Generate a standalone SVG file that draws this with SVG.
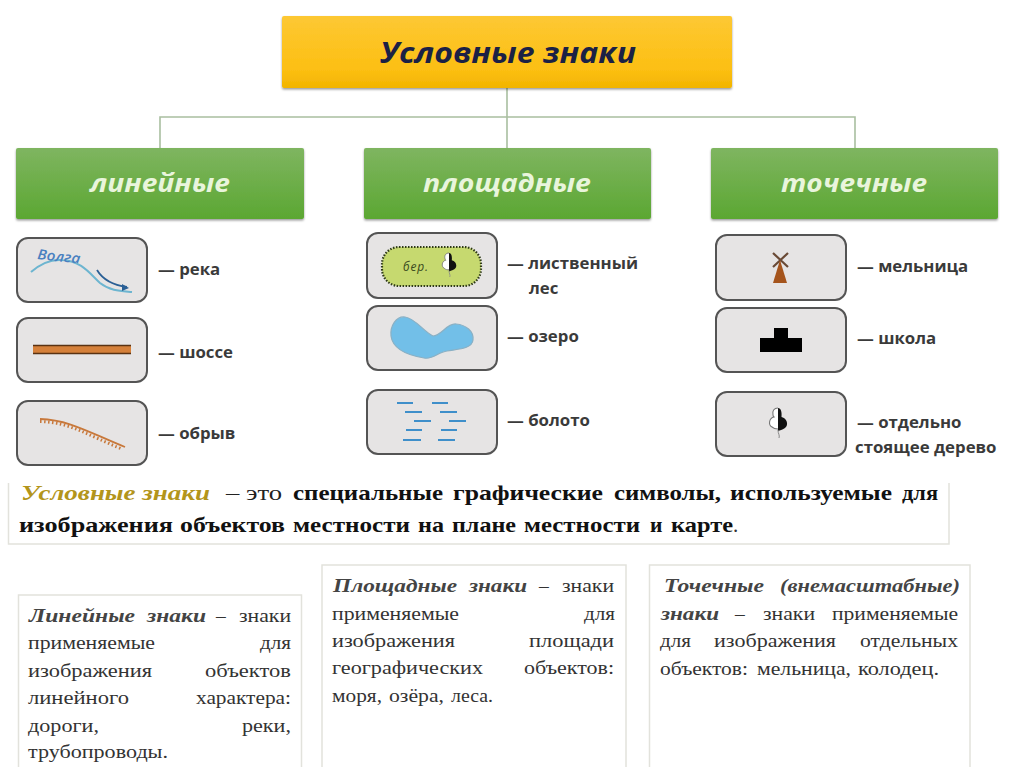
<svg xmlns="http://www.w3.org/2000/svg" width="1024" height="767" viewBox="0 0 1024 767">
<style>
.hd{font-family:"Open Sans","Lato",sans-serif;font-weight:700;font-style:italic}
.g{font-size:25px;fill:#e9f5dc}
.sym{fill:#e6e4e4;stroke:#545454;stroke-width:2}
.lab{font-family:"Open Sans","Liberation Sans",sans-serif;font-weight:700;font-size:16.800px;fill:#3a3a3a}
.ser{font-family:"Liberation Serif",serif;font-size:19.500px;fill:#333}
.b{font-weight:700;fill:#111;font-size:21.500px}
.i{font-style:italic;font-weight:700;fill:#444}
.frame{fill:none;stroke:#e2e2dc;stroke-width:1.5}
.con{fill:none;stroke:#a9bfa0;stroke-width:1.6}
.sw{stroke:#3f8fca;stroke-width:2}
</style>
<defs>
<linearGradient id="yel" x1="0" y1="0" x2="0" y2="1"><stop offset="0" stop-color="#fdc834"/><stop offset="0.75" stop-color="#fcbf12"/><stop offset="1" stop-color="#f2b400"/></linearGradient>
<linearGradient id="grn" x1="0" y1="0" x2="0" y2="1"><stop offset="0" stop-color="#7fb560"/><stop offset="1" stop-color="#5ba732"/></linearGradient>
<filter id="sh" x="-3%" y="-10%" width="106%" height="125%"><feDropShadow dx="0" dy="1.5" stdDeviation="1.2" flood-color="#000" flood-opacity="0.4"/></filter>
<filter id="soft"><feGaussianBlur stdDeviation="0.5"/></filter>
<g id="tree">
<path d="M0 0C-4 0-6 3-5 7C-5 8-4 9-4 9C-9 10-10 17-6 19C-4 21-2 21 0 21" fill="#fff" stroke="#777" stroke-width="1.100"/>
<path d="M0 0C3 0 4 4 3.500 9C9 10 11 17 7 20C4 22 2 22 0 23Z" fill="#111"/>
<path d="M0 22C0 26 2 27 1 30" fill="none" stroke="#888" stroke-width="1"/>
</g>
</defs>
<rect width="1024" height="767" fill="#fff"/>
<g id="connectors">
<path class="con" d="M507 88V148M160 148V117H855V148"/>
</g>
<g id="root"><rect x="282" y="16" width="450" height="72" rx="2" fill="url(#yel)" filter="url(#sh)"/><text class="hd" x="380" y="63" font-size="29" fill="#1b2145" textLength="256" lengthAdjust="spacingAndGlyphs">Условные знаки</text></g>
<g id="cat-linear"><rect x="16" y="148" width="288" height="71" rx="2" fill="url(#grn)" filter="url(#sh)"/><text class="hd g" x="90" y="192" textLength="140" lengthAdjust="spacingAndGlyphs">линейные</text></g>
<g id="cat-area"><rect x="364" y="148" width="287" height="71" rx="2" fill="url(#grn)" filter="url(#sh)"/><text class="hd g" x="423" y="192" textLength="168" lengthAdjust="spacingAndGlyphs">площадные</text></g>
<g id="cat-point"><rect x="711" y="148" width="287" height="71" rx="2" fill="url(#grn)" filter="url(#sh)"/><text class="hd g" x="781" y="192" textLength="146" lengthAdjust="spacingAndGlyphs">точечные</text></g>

<g id="river"><rect class="sym" x="17" y="238" width="130" height="64" rx="11"/>
<g filter="url(#soft)"><path d="M31 272C40 264 50 259 62 260C82 261 90 274 100 283C110 291 122 291 132 292" fill="none" stroke="#6db5d0" stroke-width="2"/>
<path d="M97 270C103 280 112 285 127 287" fill="none" stroke="#2a5f95" stroke-width="1.800"/><path d="M129 288L122 284L122 291Z" fill="#2a5f95"/></g>
<text x="37" y="259" transform="rotate(6 37 259)" font-family="Open Sans,sans-serif" font-style="italic" font-weight="600" font-size="14" fill="#4a80c0" textLength="43" lengthAdjust="spacingAndGlyphs">Волга</text>
<text class="lab" x="158" y="275">— река</text></g>
<g id="highway"><rect class="sym" x="17" y="318" width="130" height="64" rx="11"/>
<rect x="33" y="345" width="98" height="9" fill="#d5803a"/><path d="M33 345.500H131M33 353.500H131" stroke="#5a3212" stroke-width="1.600"/>
<text class="lab" x="158" y="358">— шоссе</text></g>
<g id="cliff"><rect class="sym" x="17" y="401" width="130" height="64" rx="11"/>
<g filter="url(#soft)"><path d="M40 419C70 420 90 433 125 447" fill="none" stroke="#c8783a" stroke-width="1.800"/><path d="M40 421.500C70 422 89 436 122 449" fill="none" stroke="#c8783a" stroke-width="3" stroke-dasharray="1.500 2.500"/></g>
<text class="lab" x="158" y="439">— обрыв</text></g>

<g id="forest"><rect class="sym" x="367" y="233" width="130" height="65" rx="11"/>
<rect x="382" y="247" width="99" height="39" rx="17" fill="#c6d96f" stroke="#2f3a18" stroke-width="2.200" stroke-dasharray="1.500 1.500"/>
<text x="403" y="271" font-family="Open Sans,sans-serif" font-style="italic" font-size="12" fill="#3a4a20" textLength="25">бер.</text>
<use href="#tree" transform="translate(449 253) scale(0.8)"/>
<text class="lab" x="507" y="269">— лиственный</text><text class="lab" x="529" y="294">лес</text></g>
<g id="lake"><rect class="sym" x="367" y="306" width="130" height="64" rx="11"/>
<path d="M391 336C390 326 396 316 405 317C415 318 424 332 433 336C441 336 447 323 456 324C466 325 474 331 473 340C472 349 458 349 447 351C438 352 433 360 424 358C412 356 393 351 391 336Z" fill="#72bfe8" stroke="#8ab0c4" stroke-width="1.200"/>
<text class="lab" x="507" y="342">— озеро</text></g>
<g id="swamp"><rect class="sym" x="367" y="390" width="130" height="64" rx="11"/>
<path class="sw" d="M397 403H413M432 403H448M405 412H422M440 412H457M414 421H431M449 421H466M406 430H422M441 430H457M403 440H421M438 440H455"/>
<text class="lab" x="507" y="426">— болото</text></g>

<g id="mill"><rect class="sym" x="716" y="235" width="130" height="65" rx="11"/>
<path d="M773 253L788 267M788 253L773 267" stroke="#6a4a36" stroke-width="2.200"/><path d="M780 260L787 283H773Z" fill="#a5541c"/>
<text class="lab" x="857" y="272">— мельница</text></g>
<g id="school"><rect class="sym" x="716" y="308" width="130" height="64" rx="11"/>
<path d="M774 328H788V338H802V352H760V338H774Z" fill="#000"/>
<text class="lab" x="857" y="344">— школа</text></g>
<g id="tree-single"><rect class="sym" x="716" y="392" width="130" height="64" rx="11"/>
<use href="#tree" transform="translate(778 408)"/>
<text class="lab" x="857" y="428">— отдельно</text><text class="lab" x="855" y="453">стоящее дерево</text></g>

<g id="definition"><path class="frame" d="M8.500 483V544H949V483"/>
<text class="ser" x="21" y="500" textLength="189" lengthAdjust="spacingAndGlyphs" style="font-size:21.500px;font-style:italic;font-weight:700;fill:#b3951b">Условные знаки</text>
<text class="ser" x="226" y="500" textLength="56" lengthAdjust="spacingAndGlyphs" style="font-size:21px;fill:#222">– это</text>
<g class="ser b">
<text x="293" y="500" textLength="150" lengthAdjust="spacingAndGlyphs">специальные</text><text x="453" y="500" textLength="150" lengthAdjust="spacingAndGlyphs">графические</text><text x="614" y="500" textLength="107" lengthAdjust="spacingAndGlyphs">символы,</text><text x="730" y="500" textLength="162" lengthAdjust="spacingAndGlyphs">используемые</text><text x="902" y="500" textLength="36" lengthAdjust="spacingAndGlyphs">для</text>
<text x="19" y="532" textLength="154" lengthAdjust="spacingAndGlyphs">изображения</text><text x="180" y="532" textLength="105" lengthAdjust="spacingAndGlyphs">объектов</text><text x="293" y="532" textLength="117" lengthAdjust="spacingAndGlyphs">местности</text><text x="418" y="532" textLength="26" lengthAdjust="spacingAndGlyphs">на</text><text x="452" y="532" textLength="64" lengthAdjust="spacingAndGlyphs">плане</text><text x="524" y="532" textLength="116" lengthAdjust="spacingAndGlyphs">местности</text><text x="650" y="532">и</text><text x="671" y="532" textLength="62" lengthAdjust="spacingAndGlyphs">карте</text></g>
<text class="ser" x="733" y="532" style="font-size:21px">.</text></g>

<g id="linear-note" class="ser"><path class="frame" d="M18.500 767V595H301.500V767"/>
<text class="i" x="29" y="622" textLength="106" lengthAdjust="spacingAndGlyphs">Линейные</text><text class="i" x="147" y="622" textLength="59" lengthAdjust="spacingAndGlyphs">знаки</text><text x="216" y="622">–</text><text x="239" y="622" textLength="52" lengthAdjust="spacingAndGlyphs">знаки</text>
<text x="28" y="649" textLength="127" lengthAdjust="spacingAndGlyphs">применяемые</text><text x="260" y="649" textLength="31" lengthAdjust="spacingAndGlyphs">для</text>
<text x="28" y="677" textLength="124" lengthAdjust="spacingAndGlyphs">изображения</text><text x="205" y="677" textLength="86" lengthAdjust="spacingAndGlyphs">объектов</text>
<text x="28" y="704" textLength="101" lengthAdjust="spacingAndGlyphs">линейного</text><text x="196" y="704" textLength="95" lengthAdjust="spacingAndGlyphs">характера:</text>
<text x="28" y="732" textLength="71" lengthAdjust="spacingAndGlyphs">дороги,</text><text x="242" y="732" textLength="49" lengthAdjust="spacingAndGlyphs">реки,</text>
<text x="28" y="758" textLength="140" lengthAdjust="spacingAndGlyphs">трубопроводы.</text></g>

<g id="area-note" class="ser"><path class="frame" d="M322 767V565H626V767"/>
<text class="i" x="333" y="592" textLength="124" lengthAdjust="spacingAndGlyphs">Площадные</text><text class="i" x="469" y="592" textLength="58" lengthAdjust="spacingAndGlyphs">знаки</text><text x="539" y="592">–</text><text x="562" y="592" textLength="52" lengthAdjust="spacingAndGlyphs">знаки</text>
<text x="332" y="620" textLength="127" lengthAdjust="spacingAndGlyphs">применяемые</text><text x="584" y="620" textLength="31" lengthAdjust="spacingAndGlyphs">для</text>
<text x="332" y="647" textLength="123" lengthAdjust="spacingAndGlyphs">изображения</text><text x="529" y="647" textLength="85" lengthAdjust="spacingAndGlyphs">площади</text>
<text x="332" y="674" textLength="151" lengthAdjust="spacingAndGlyphs">географических</text><text x="524" y="674" textLength="90" lengthAdjust="spacingAndGlyphs">объектов:</text>
<text x="332" y="702" textLength="50" lengthAdjust="spacingAndGlyphs">моря,</text><text x="389" y="702" textLength="55" lengthAdjust="spacingAndGlyphs">озёра,</text><text x="451" y="702" textLength="42" lengthAdjust="spacingAndGlyphs">леса.</text></g>

<g id="point-note" class="ser"><path class="frame" d="M649.500 767V565H970V767"/>
<text class="i" x="664" y="592" textLength="100" lengthAdjust="spacingAndGlyphs">Точечные</text><text class="i" x="780" y="592" textLength="180" lengthAdjust="spacingAndGlyphs">(внемасштабные)</text>
<text class="i" x="661" y="620" textLength="58" lengthAdjust="spacingAndGlyphs">знаки</text><text x="735" y="620">–</text><text x="763" y="620" textLength="52" lengthAdjust="spacingAndGlyphs">знаки</text><text x="832" y="620" textLength="126" lengthAdjust="spacingAndGlyphs">применяемые</text>
<text x="660" y="647" textLength="31" lengthAdjust="spacingAndGlyphs">для</text><text x="714" y="647" textLength="122" lengthAdjust="spacingAndGlyphs">изображения</text><text x="860" y="647" textLength="98" lengthAdjust="spacingAndGlyphs">отдельных</text>
<text x="660" y="675" textLength="88" lengthAdjust="spacingAndGlyphs">объектов:</text><text x="757" y="675" textLength="94" lengthAdjust="spacingAndGlyphs">мельница,</text><text x="858" y="675" textLength="81" lengthAdjust="spacingAndGlyphs">колодец.</text></g>
</svg>
